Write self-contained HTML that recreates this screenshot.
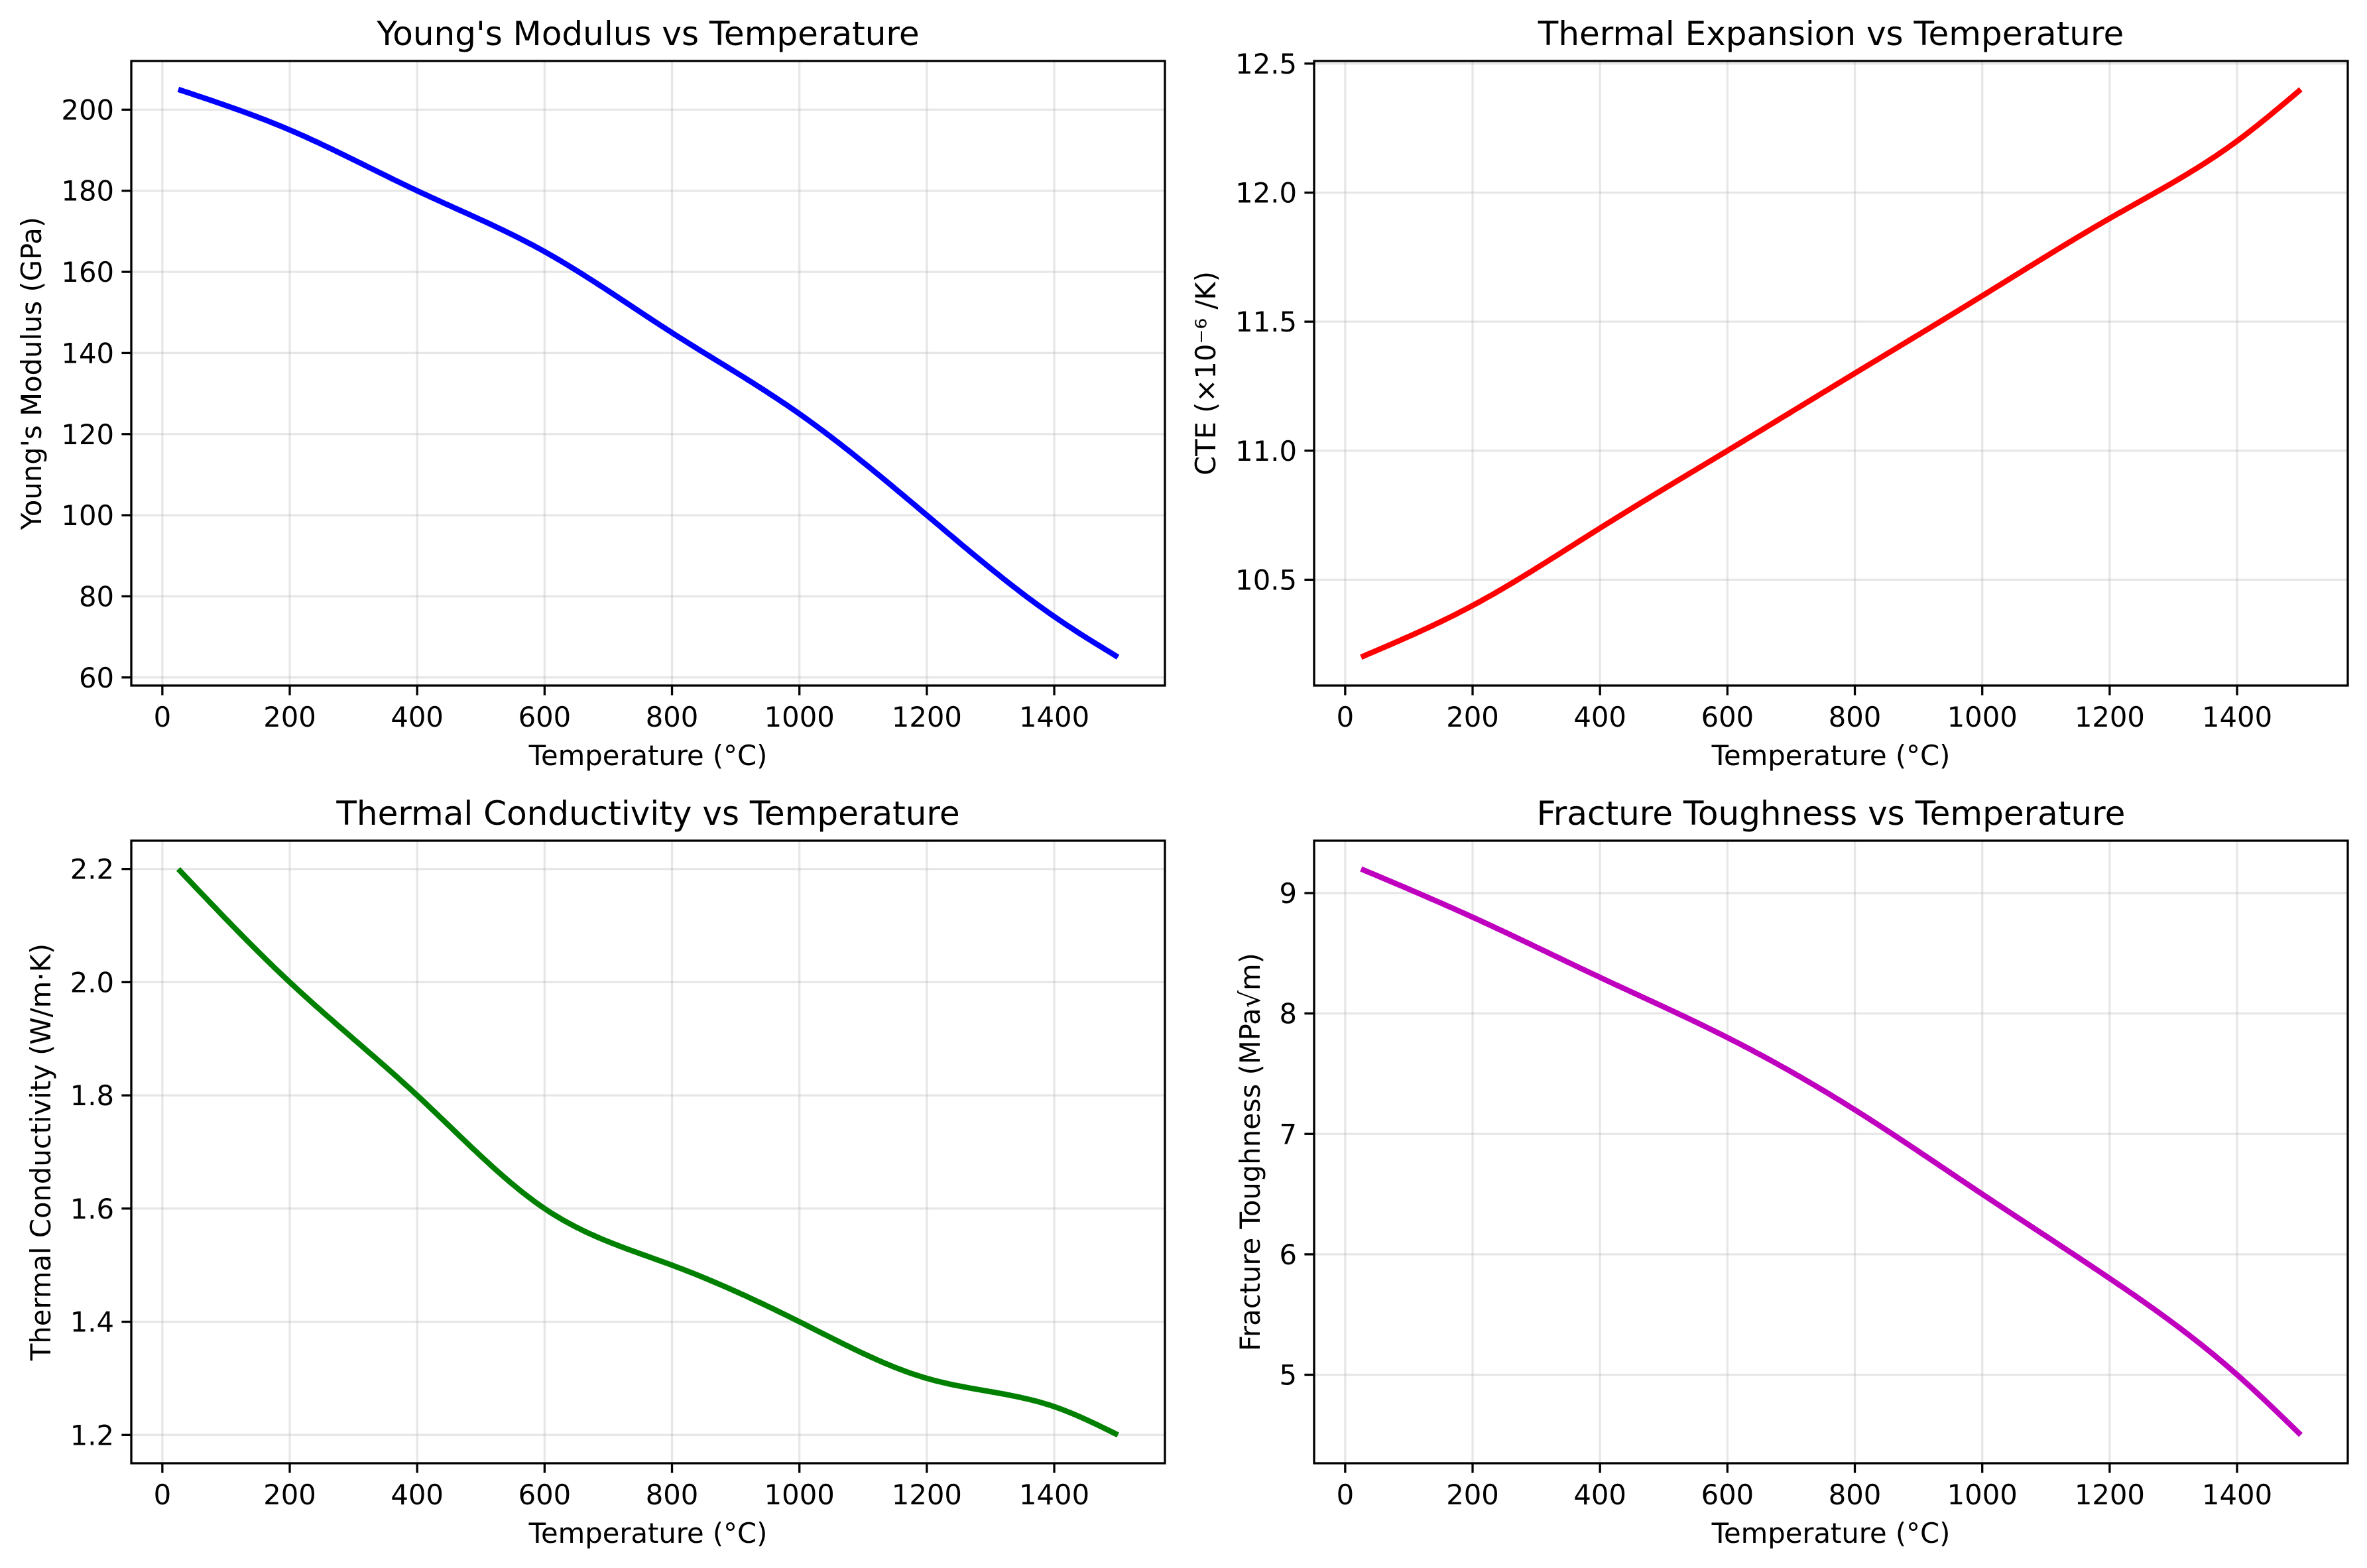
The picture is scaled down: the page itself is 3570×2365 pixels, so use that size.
<!DOCTYPE html>
<html><head><meta charset="utf-8"><style>
html,body{margin:0;padding:0;background:#fff}
svg{display:block}
text{font-family:"DejaVu Sans","Liberation Sans",sans-serif;fill:#000}
</style></head><body>
<svg id="fig" xmlns="http://www.w3.org/2000/svg" width="3570" height="2365" viewBox="0 0 3570 2365"></svg>
<script>
const temps = [25, 200, 400, 600, 800, 1000, 1200, 1400, 1500];
const youngs = [205, 195, 180, 165, 145, 125, 100, 75, 65];
const cte = [10.2, 10.4, 10.7, 11.0, 11.3, 11.6, 11.9, 12.2, 12.4];
const conductivity = [2.2, 2.0, 1.8, 1.6, 1.5, 1.4, 1.3, 1.25, 1.2];
const toughness = [9.2, 8.8, 8.3, 7.8, 7.2, 6.5, 5.8, 5.0, 4.5];
const xTicks = [0, 200, 400, 600, 800, 1000, 1200, 1400];
const youngsTicks = [60, 80, 100, 120, 140, 160, 180, 200];
const cteTicks = ["10.5", "11.0", "11.5", "12.0", "12.5"];
const condTicks = ["1.2", "1.4", "1.6", "1.8", "2.0", "2.2"];
const toughTicks = [5, 6, 7, 8, 9];

const NS = "http://www.w3.org/2000/svg";
const fig = document.getElementById("fig");
function el(tag, attrs, parent, txt) {
  const e = document.createElementNS(NS, tag);
  for (const k in attrs) e.setAttribute(k, attrs[k]);
  if (txt !== undefined) e.textContent = txt;
  parent.appendChild(e);
  return e;
}
function spline(xs, ys) {
  const n = xs.length, h = [], al = [], l = [1], mu = [0], z = [0], c = new Array(n).fill(0), b = [], d = [];
  for (let i = 0; i < n - 1; i++) h.push(xs[i + 1] - xs[i]);
  for (let i = 1; i < n - 1; i++) al[i] = 3 / h[i] * (ys[i + 1] - ys[i]) - 3 / h[i - 1] * (ys[i] - ys[i - 1]);
  for (let i = 1; i < n - 1; i++) {
    l[i] = 2 * (xs[i + 1] - xs[i - 1]) - h[i - 1] * mu[i - 1];
    mu[i] = h[i] / l[i];
    z[i] = (al[i] - h[i - 1] * z[i - 1]) / l[i];
  }
  for (let j = n - 2; j >= 0; j--) {
    c[j] = (j > 0 ? z[j] : 0) - mu[j] * c[j + 1];
    b[j] = (ys[j + 1] - ys[j]) / h[j] - h[j] * (c[j + 1] + 2 * c[j]) / 3;
    d[j] = (c[j + 1] - c[j]) / (3 * h[j]);
  }
  return function (x) {
    let i = 0;
    while (i < n - 2 && x > xs[i + 1]) i++;
    const t = x - xs[i];
    return ys[i] + b[i] * t + c[i] * t * t + d[i] * t * t * t;
  };
}
function panel(opt) {
  const g = el("g", {}, fig);
  
  
  const L = opt.L, R = opt.R, T = opt.T, B = opt.B;
  const xmin = -48.75, xmax = 1573.75;
  const ys = opt.ys;
  const lo = Math.min(...ys), hi = Math.max(...ys), m = (hi - lo) * 0.05;
  const ymin = lo - m, ymax = hi + m;
  const sx = v => L + (v - xmin) / (xmax - xmin) * (R - L);
  const sy = v => B - (v - ymin) / (ymax - ymin) * (B - T);
  xTicks.forEach(t => {
    const gl = el("line", {x1: sx(t), x2: sx(t), y1: T, y2: B, stroke: "#b0b0b0", "stroke-opacity": 0.3, "stroke-width": 3.3}, g);
    
    
  });
  opt.yt.forEach(t => {
    const v = parseFloat(t);
    const gl = el("line", {x1: L, x2: R, y1: sy(v), y2: sy(v), stroke: "#b0b0b0", "stroke-opacity": 0.3, "stroke-width": 3.3}, g);
    
    
  });
  const f = spline(temps, ys);
  let d = "";
  for (let i = 0; i <= 300; i++) {
    const x = temps[0] + (temps[temps.length - 1] - temps[0]) * i / 300;
    d += (i ? "L" : "M") + sx(x).toFixed(1) + "," + sy(f(x)).toFixed(1);
  }
  const p = el("path", {d: d, fill: "none", stroke: opt.color, "stroke-width": 8.3}, g);
  
  
  const fr = el("rect", {x: L, y: T, width: R - L, height: B - T, fill: "none", stroke: "#000", "stroke-width": 3.3}, g);
  
  
  xTicks.forEach(t => {
    el("line", {x1: sx(t), x2: sx(t), y1: B, y2: B + 14.6, stroke: "#000", "stroke-width": 3.3}, g);
    const tx = el("text", {x: sx(t), y: B + 62, "font-size": 41.7, "text-anchor": "middle"}, g, String(t));
    
    
  });
  opt.yt.forEach(t => {
    const v = parseFloat(t);
    el("line", {x1: L - 14.6, x2: L, y1: sy(v), y2: sy(v), stroke: "#000", "stroke-width": 3.3}, g);
    const tx = el("text", {x: L - 26, y: sy(v) + 15, "font-size": 41.7, "text-anchor": "end"}, g, String(t));
    
    
  });
  const xl = el("text", {x: (L + R) / 2, y: B + 120, "font-size": 41.7, "text-anchor": "middle"}, g, "Temperature (°C)");
  
  
  const yl = el("text", {x: 0, y: 0, "font-size": 41.7, "text-anchor": "middle", transform: "translate(" + opt.ylx + "," + (T + B) / 2 + ") rotate(-90)"}, g, opt.ylabel);
  
  
  const ti = el("text", {x: (L + R) / 2, y: T - 24, "font-size": 50, "text-anchor": "middle"}, g, opt.title);
  
  
}
panel({name: "youngs-modulus-chart", L: 198, R: 1757, T: 92, B: 1034, ys: youngs, yt: youngsTicks, color: "#0000ff", title: "Young's Modulus vs Temperature", ylabel: "Young's Modulus (GPa)", ylx: 62});
panel({name: "thermal-expansion-chart", L: 1982, R: 3541, T: 92, B: 1034, ys: cte, yt: cteTicks, color: "#ff0000", title: "Thermal Expansion vs Temperature", ylabel: "CTE (×10⁻⁶ /K)", ylx: 1833});
panel({name: "thermal-conductivity-chart", L: 198, R: 1757, T: 1268, B: 2207, ys: conductivity, yt: condTicks, color: "#008000", title: "Thermal Conductivity vs Temperature", ylabel: "Thermal Conductivity (W/m·K)", ylx: 76});
panel({name: "fracture-toughness-chart", L: 1982, R: 3541, T: 1268, B: 2207, ys: toughness, yt: toughTicks, color: "#bf00bf", title: "Fracture Toughness vs Temperature", ylabel: "Fracture Toughness (MPa√m)", ylx: 1900});
</script>
</body></html>
